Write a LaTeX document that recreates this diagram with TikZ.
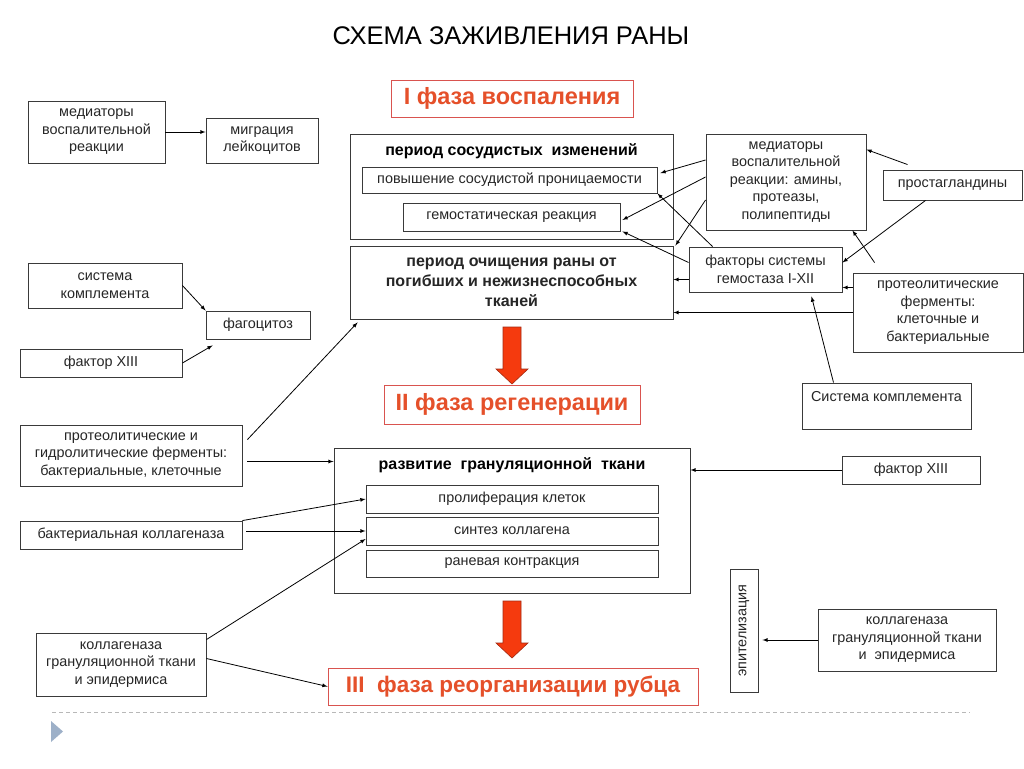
\documentclass[tikz,border=0pt]{standalone}
\usepackage{fontspec}
\setmainfont{Liberation Sans}
\usetikzlibrary{arrows}
\definecolor{phasered}{HTML}{D9534F}
\definecolor{phasetext}{HTML}{E5502A}
\definecolor{arrowred}{HTML}{F53A0E}
\definecolor{arrowedge}{HTML}{A32A12}
\definecolor{linegray}{HTML}{3A3A3A}
\definecolor{dashgray}{HTML}{B8B8B8}
\definecolor{markblue}{HTML}{9DB0C8}

\begin{document}
\begin{tikzpicture}[x=1pt,y=-1pt,>=latex,
  box/.style={draw=linegray,line width=0.9pt,inner sep=2pt,align=center,text=black!85,font=\fontsize{14.4}{17.5}\selectfont},
  wh/.style 2 args={minimum width=#1,minimum height=#2},
  head/.style={align=center,font=\bfseries\fontsize{16}{20}\selectfont},
  phase/.style={draw=phasered,line width=0.9pt,text=phasetext,font=\bfseries\fontsize{23.5}{26}\selectfont},
  link/.style={->,line width=0.8pt},
  bigarrow/.style={fill=arrowred,draw=arrowedge,line width=0.6pt}]

  \fill[white] (0,0) rectangle (1024,768);
  \useasboundingbox (0,0) rectangle (1024,768);

  \node[font=\fontsize{25.5}{28}\selectfont] (title) at (511,36) {СХЕМА ЗАЖИВЛЕНИЯ РАНЫ};

  \node[phase,wh={242}{37}] (ph1) at (512,98.5) {I фаза воспаления};
  \node[phase,wh={256}{39}] (ph2) at (512,404.5) {II фаза регенерации};
  \node[phase,wh={370}{37},font=\bfseries\fontsize{22.5}{26}\selectfont] (ph3) at (513,686.5) {III\ \ фаза реорганизации рубца};

  \node[box,wh={323}{105}] (vasc) at (511.5,186.5) {};
  \node[head] (vascT) at (511.5,151) {период сосудистых\ \ изменений};
  \node[box,wh={295}{26}] (perm) at (509.5,180) {повышение сосудистой проницаемости};
  \node[box,wh={217}{28}] (hemo) at (511.5,217) {гемостатическая реакция};
  \node[box,head,wh={323}{73}] (clean) at (511.5,282.5) {период очищения раны от\\погибших и нежизнеспособных\\тканей};

  \node[box,wh={160}{96}] (medR) at (786,182) {медиаторы\\воспалительной\\реакции: амины,\\протеазы,\\полипептиды};
  \node[box,wh={139}{30}] (prost) at (952.5,185) {простагландины};
  \node[box,wh={153}{45}] (fact) at (765.5,269.5) {факторы системы\\гемостаза I-XII};
  \node[box,wh={170}{79}] (proteoR) at (938,312.5) {протеолитические\\ферменты:\\клеточные и\\бактериальные};
  \node[box,wh={169}{46},text height=10pt,text depth=19pt] (complR) at (886.5,406) {Система комплемента};

  \node[box,wh={137}{62}] (medL) at (96.5,132) {медиаторы\\воспалительной\\реакции};
  \node[box,wh={112}{45}] (migr) at (262,140.5) {миграция\\лейкоцитов};
  \node[box,wh={154}{45}] (complL) at (105,285.5) {система\\комплемента};
  \node[box,wh={104}{28}] (phago) at (258,325) {фагоцитоз};
  \node[box,wh={162}{28}] (f13L) at (101,363) {фактор XIII};
  \node[box,wh={222}{61}] (proteoL) at (131,455.5) {протеолитические и\\гидролитические ферменты:\\бактериальные, клеточные};

  \node[box,wh={356}{145}] (gran) at (512,520.5) {};
  \node[head] (granT) at (512,465) {развитие\ \ грануляционной\ \ ткани};
  \node[box,wh={292}{28}] (prolif) at (512,499) {пролиферация клеток};
  \node[box,wh={292}{28}] (synth) at (512,531) {синтез коллагена};
  \node[box,wh={292}{27}] (contr) at (512,563.5) {раневая контракция};
  \node[box,wh={138}{28}] (f13R) at (911,470) {фактор XIII};
  \node[box,wh={222}{28}] (bactColl) at (131,535) {бактериальная коллагеназа};
  \node[box,wh={170}{63}] (collL) at (121,664.5) {коллагеназа\\грануляционной ткани\\и эпидермиса};
  \node[box,wh={28}{123}] (epith) at (744,630.5) {\rotatebox{90}{эпителизация}};
  \node[box,wh={178}{62}] (collR) at (907,640) {коллагеназа\\грануляционной ткани\\и\ \ эпидермиса};

  \coordinate (fxlow) at ([yshift=-18pt]fact.east);

  \path[link]
    (medL.east) edge (medL.east -| migr.west)
    (complL.east) edge (phago.north west)
    (f13L.east) edge ([xshift=7pt,yshift=-6pt]phago.south west)
    ([xshift=5pt,yshift=-15pt]proteoL.north east) edge ([xshift=8pt,yshift=-3pt]clean.south west)
    ([xshift=5pt,yshift=-6pt]proteoL.east) edge ([yshift=-6pt]proteoL.east -| gran.west)
    (bactColl.north east) edge (prolif.west)
    ([xshift=4pt]synth.west -| bactColl.east) edge (synth.west)
    ([yshift=-7pt]collL.north east) edge ([yshift=-8pt]synth.west)
    ([yshift=6pt]collL.east) edge (ph3.west)
    (f13R.west) edge (f13R.west -| gran.east)
    (collR.west) edge ([xshift=4pt]collR.west -| epith.east)
    ([xshift=25pt,yshift=5pt]prost.north west) edge ([yshift=-16pt]medR.north east)
    ([xshift=-27pt]prost.south) edge ([yshift=7pt]fact.east)
    (proteoR.west |- fxlow) edge (fxlow)
    (proteoR.west) edge (proteoR.west -| clean.east)
    ([xshift=22pt,yshift=10pt]proteoR.north west) edge ([xshift=-14pt]medR.south east)
    ([xshift=-53pt]complR.north) edge ([xshift=46pt,yshift=-4pt]fact.south)
    ([yshift=22pt]medR.west) edge ([xshift=3pt,yshift=7pt]perm.east)
    ([yshift=5pt]medR.west) edge ([xshift=2pt,yshift=-3pt]hemo.east)
    ([yshift=-18pt]medR.west) edge ([xshift=2pt]clean.north east)
    ([xshift=24pt]fact.north west) edge (perm.south east)
    ([yshift=7pt]fact.west) edge ([xshift=2pt]hemo.south east)
    ([yshift=-10pt]fact.west) edge ([yshift=-10pt]fact.west -| clean.east);

  \foreach \ya/\yb in {327/384,601/658}
    \draw[bigarrow] (503,\ya) -- (521,\ya) -- (521,\yb-15) -- (528,\yb-15) -- (512,\yb) -- (496,\yb-15) -- (503,\yb-15) -- cycle;

  \draw[dashgray,line width=0.8pt,dash pattern=on 4pt off 3pt] (52,712) -- (970,712);
  \fill[markblue] (51,721) -- (63,731.5) -- (51,742) -- cycle;
\end{tikzpicture}
\end{document}
